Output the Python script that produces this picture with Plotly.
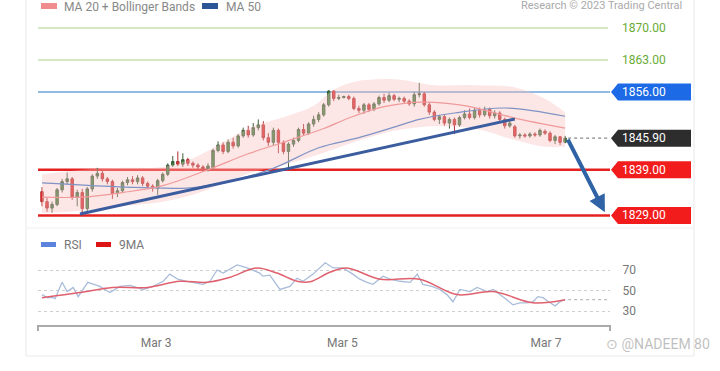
import plotly.graph_objects as go

W, H = 720, 371

# ---------------- data ----------------
opens = [1834.2, 1832.0, 1830.6, 1831.4, 1834.6, 1836.4, 1837.0, 1833.0, 1834.0, 1830.5,
         1834.8, 1837.6, 1838.2, 1837.0, 1836.4, 1833.8, 1834.4, 1836.2, 1836.8, 1836.4,
         1837.2, 1836.0, 1835.4, 1835.0, 1836.6, 1838.0, 1840.0, 1840.8, 1840.2, 1841.2,
         1840.4, 1840.0, 1839.6, 1839.2, 1839.4, 1843.2, 1844.4, 1843.0, 1845.0, 1844.2,
         1846.4, 1847.6, 1846.6, 1848.2, 1848.8, 1846.0, 1845.0, 1847.6, 1845.0, 1843.0,
         1844.6, 1845.4, 1847.8, 1847.0, 1849.0, 1850.0, 1851.0, 1853.2, 1856.2, 1854.6,
         1854.8, 1855.0, 1854.6, 1852.4, 1852.0, 1853.2, 1852.2, 1853.4, 1854.8, 1854.2,
         1855.2, 1854.4, 1854.6, 1854.0, 1853.4, 1855.4, 1855.6, 1853.2, 1851.6, 1850.0,
         1850.6, 1849.2, 1850.0, 1848.8, 1850.4, 1851.2, 1850.4, 1852.0, 1851.0, 1852.2,
         1850.8, 1851.4, 1850.0, 1848.6, 1848.4, 1846.4, 1846.6, 1846.4, 1846.8, 1846.6,
         1847.4, 1847.0, 1845.4, 1846.2, 1845.0]
closes = [1832.0, 1830.6, 1831.4, 1834.6, 1836.4, 1837.0, 1833.0, 1834.0, 1830.5, 1834.8,
          1837.6, 1838.2, 1837.0, 1836.4, 1833.8, 1834.4, 1836.2, 1836.8, 1836.4, 1837.2,
          1836.0, 1835.4, 1835.0, 1836.6, 1838.0, 1840.0, 1840.8, 1840.2, 1841.2, 1840.4,
          1840.0, 1839.6, 1839.2, 1839.8, 1843.2, 1844.4, 1843.0, 1845.0, 1844.2, 1846.4,
          1847.6, 1846.6, 1848.2, 1848.8, 1846.0, 1845.0, 1847.6, 1845.0, 1843.0, 1844.6,
          1845.4, 1847.8, 1847.0, 1849.0, 1850.0, 1851.0, 1853.2, 1856.2, 1854.6, 1854.8,
          1855.0, 1854.6, 1852.4, 1852.0, 1853.2, 1852.2, 1853.4, 1854.8, 1854.2, 1855.2,
          1854.4, 1854.6, 1854.0, 1853.4, 1855.4, 1855.6, 1853.2, 1851.6, 1850.0, 1850.6,
          1849.2, 1850.0, 1848.8, 1850.4, 1851.2, 1850.4, 1852.0, 1851.0, 1852.2, 1850.8,
          1851.4, 1850.0, 1848.6, 1849.2, 1846.4, 1846.6, 1846.4, 1846.8, 1846.6, 1847.6,
          1847.0, 1845.4, 1846.2, 1845.0, 1845.9]
highs = [1835.2, 1832.8, 1832.0, 1835.0, 1837.0, 1838.4, 1837.4, 1834.6, 1834.8, 1835.2,
         1838.0, 1839.4, 1838.8, 1837.4, 1836.8, 1835.0, 1836.6, 1837.4, 1837.6, 1837.8,
         1837.6, 1836.4, 1835.8, 1837.0, 1838.4, 1840.4, 1842.0, 1843.0, 1842.6, 1841.6,
         1840.8, 1840.4, 1840.0, 1840.4, 1843.6, 1845.2, 1845.0, 1845.6, 1846.0, 1846.8,
         1848.2, 1848.6, 1849.2, 1850.0, 1849.6, 1847.0, 1848.2, 1848.0, 1845.4, 1845.0,
         1846.0, 1848.2, 1849.0, 1849.4, 1850.8, 1851.6, 1853.6, 1856.4, 1856.4, 1855.4,
         1855.2, 1855.4, 1855.0, 1853.0, 1853.6, 1853.6, 1853.8, 1855.2, 1855.6, 1855.8,
         1855.6, 1855.0, 1855.0, 1854.4, 1856.0, 1858.0, 1856.0, 1853.6, 1852.0, 1851.0,
         1851.0, 1850.4, 1850.4, 1850.8, 1852.0, 1852.4, 1852.6, 1852.6, 1852.8, 1852.6,
         1852.0, 1851.8, 1850.4, 1849.6, 1848.8, 1847.0, 1847.0, 1847.2, 1847.2, 1848.0,
         1847.8, 1847.4, 1846.6, 1846.4, 1846.4]
lows = [1831.0, 1829.8, 1829.6, 1831.0, 1834.0, 1835.8, 1832.4, 1831.0, 1829.4, 1830.0,
        1834.2, 1837.0, 1836.4, 1835.8, 1832.6, 1833.0, 1834.0, 1835.6, 1835.8, 1835.8,
        1835.4, 1834.8, 1834.2, 1833.5, 1836.2, 1837.6, 1839.6, 1839.8, 1839.6, 1839.8,
        1839.4, 1839.0, 1838.6, 1838.6, 1839.0, 1842.8, 1842.4, 1842.6, 1843.6, 1843.8,
        1846.0, 1846.0, 1846.2, 1847.6, 1845.4, 1844.2, 1844.4, 1842.6, 1842.4, 1839.0,
        1844.0, 1845.0, 1846.4, 1846.6, 1848.4, 1849.4, 1850.6, 1852.8, 1854.0, 1854.2,
        1854.6, 1854.2, 1852.0, 1851.4, 1851.2, 1851.6, 1851.8, 1853.0, 1853.6, 1853.8,
        1854.0, 1853.8, 1853.4, 1853.0, 1852.8, 1854.8, 1852.8, 1851.0, 1849.6, 1849.0,
        1848.6, 1848.0, 1846.8, 1848.4, 1850.0, 1850.0, 1850.0, 1850.4, 1850.6, 1850.2,
        1850.2, 1849.6, 1848.0, 1848.2, 1846.0, 1845.8, 1846.0, 1846.0, 1846.2, 1846.2,
        1846.6, 1845.0, 1844.6, 1844.4, 1844.8]
candle_idx = list(range(len(closes)))

band_idx = [0, 8, 16, 24, 30, 36, 42, 48, 54, 58, 62, 70, 78, 86, 94, 100, 104]
band_upper = [1838.0, 1839.0, 1839.4, 1839.6, 1841.5, 1845.0, 1848.5, 1850.5, 1853.0,
              1856.5, 1858.2, 1858.8, 1857.5, 1857.5, 1857.0, 1854.5, 1851.5]
band_lower = [1829.5, 1830.0, 1831.0, 1832.0, 1833.5, 1836.0, 1838.5, 1840.0, 1842.0,
              1843.5, 1845.0, 1847.5, 1848.5, 1848.0, 1845.5, 1844.0, 1844.0]

ma20_idx = [0, 8, 16, 24, 33, 41, 48, 56, 61, 68, 76, 84, 94, 104]
ma20_val = [1833.0, 1833.0, 1834.0, 1835.5, 1839.0, 1842.5, 1845.0, 1848.0, 1850.3,
            1852.8, 1853.8, 1853.0, 1850.3, 1848.1]

ma50_idx = [0, 22, 31, 45, 55, 63, 70, 75, 82, 92, 104]
ma50_val = [1836.1, 1835.0, 1835.2, 1838.9, 1843.8, 1846.0, 1848.3, 1850.0, 1851.4, 1852.5, 1850.7]

trend_idx = [7.55, 94.0]
trend_val = [1829.3, 1850.1]

arrow_from = (104.4, 1845.9)
arrow_to = (111.9, 1829.7)

rsi_idx = [0, 1, 2.2, 2.6, 4, 5, 6.2, 7.2, 9.1, 11.5, 13.5, 15.5, 17.5, 20.1, 22.1, 24.1,
           25.4, 27, 28.8, 32, 33.4, 34.8, 36, 38.8, 40.8, 43.3, 43.9, 45.3, 47.3, 49.3,
           50.7, 51.9, 53.9, 56.3, 57.9, 59.8, 61.8, 63.2, 64.6, 65.8, 67.8, 69.2, 71.2,
           73.2, 74.6, 75.7, 77.5, 79.1, 80.5, 81.7, 83.1, 85.1, 86.5, 88.5, 89.7, 91.1,
           92.4, 93.6, 95, 96.4, 97.6, 98.6, 99.6, 101, 102, 103, 104]
rsi_val = [46, 43, 43, 42, 58, 49, 53, 44, 58, 54, 48, 54, 55, 51, 54, 59,
           66, 61, 59, 56, 59, 70, 67, 75, 72, 67, 64, 65, 51, 54,
           62, 59, 66, 77, 72, 72, 66, 61, 58, 56, 64, 61, 59,
           58, 66, 56, 54, 51, 46, 39, 51, 49, 53, 49, 51, 46,
           41, 36, 38, 38, 39, 44, 43, 38, 35, 39, 41]

ma9_idx = [0, 7.5, 14, 21, 27.4, 32.8, 37.4, 42.7, 46.7, 50.7, 53.3, 57.3, 60.6,
           67.2, 75.1, 82.5, 89.7, 97.6, 104]
ma9_val = [43, 48, 53, 53, 59, 58, 63, 72, 67, 59, 58.5, 68, 72,
           61, 61, 46, 49, 38, 41]

green_levels = [1870.00, 1863.00]
resist_level = 1856.00
last_price = 1845.90
support_levels = [1839.00, 1829.00]
rsi_ticks = [30, 50, 70]
last_rsi = 41

date_pos = [22.7, 59.7, 100.2]
date_text = ["Mar 3", "Mar 5", "Mar 7"]

# ---------------- layout geometry ----------------
def fy(px):
    return 1 - px / H

def fx(px):
    return px / W

XL, XR = 38, 610
x_range = [(XL - 42) / 5.03, (XR - 42) / 5.03]
P_TOP, P_BOT = 12, 228
price_range = [1856 - (P_BOT - 92) / 4.5705, 1856 + (92 - P_TOP) / 4.5705]
R_TOP, R_BOT = 258, 325
rsi_range = [30 - (R_BOT - 311) / 1.025, 70 + (270 - R_TOP) / 1.025]

FONT = "Roboto, Arial, sans-serif"

fig = go.Figure()

# Bollinger band fill
fig.add_trace(go.Scatter(x=band_idx, y=band_lower, mode="lines", line=dict(width=0, shape="spline"),
                         hoverinfo="skip", showlegend=False, xaxis="x", yaxis="y"))
fig.add_trace(go.Scatter(x=band_idx, y=band_upper, mode="lines", line=dict(width=0, shape="spline"),
                         fill="tonexty", fillcolor="rgba(248,190,190,0.38)",
                         hoverinfo="skip", showlegend=False, xaxis="x", yaxis="y"))
# MA50
fig.add_trace(go.Scatter(x=ma50_idx, y=ma50_val, mode="lines",
                         line=dict(color="#7f93c4", width=1.2, shape="spline"),
                         showlegend=False, xaxis="x", yaxis="y"))
# MA20
fig.add_trace(go.Scatter(x=ma20_idx, y=ma20_val, mode="lines",
                         line=dict(color="#f09a9a", width=1.2, shape="spline"),
                         showlegend=False, xaxis="x", yaxis="y"))
# Trend line
fig.add_trace(go.Scatter(x=trend_idx, y=trend_val, mode="lines",
                         line=dict(color="#3b5c9e", width=3),
                         showlegend=False, xaxis="x", yaxis="y"))
# Candles
fig.add_trace(go.Candlestick(x=candle_idx, open=opens, high=highs, low=lows, close=closes,
                             increasing=dict(line=dict(color="#3d5f3d", width=1), fillcolor="#3a8a3a"),
                             decreasing=dict(line=dict(color="#b03030", width=1), fillcolor="#e52b2b"),
                             whiskerwidth=0, showlegend=False, xaxis="x", yaxis="y"))

# RSI + 9MA
fig.add_trace(go.Scatter(x=rsi_idx, y=rsi_val, mode="lines",
                         line=dict(color="#a9bcd9", width=1.3),
                         showlegend=False, xaxis="x2", yaxis="y2"))
fig.add_trace(go.Scatter(x=ma9_idx, y=ma9_val, mode="lines",
                         line=dict(color="#e0606e", width=1.5, shape="spline"),
                         showlegend=False, xaxis="x2", yaxis="y2"))

shapes = []
annotations = []

# panel border
shapes.append(dict(type="rect", xref="paper", yref="paper", x0=fx(26), x1=fx(694), y0=fy(356), y1=fy(-2),
                   line=dict(color="#e8e8e8", width=1), layer="below"))
shapes.append(dict(type="line", xref="paper", yref="paper", x0=fx(26), x1=fx(694), y0=fy(228), y1=fy(228),
                   line=dict(color="#f0f0f0", width=1), layer="below"))

# level lines
for lv in green_levels:
    shapes.append(dict(type="line", xref="x domain", yref="y", x0=0, x1=(608 - XL) / (XR - XL), y0=lv, y1=lv,
                       line=dict(color="#c8e0ae", width=1.5), layer="below"))
    annotations.append(dict(xref="paper", yref="y", x=fx(620), y=lv, text=f"{lv:.2f}", showarrow=False,
                            xanchor="left", yanchor="middle", font=dict(family=FONT, size=12, color="#6aab35")))
shapes.append(dict(type="line", xref="x domain", yref="y", x0=0, x1=1, y0=resist_level, y1=resist_level,
                   line=dict(color="#6ea3da", width=1.5), layer="below"))
for lv in support_levels:
    shapes.append(dict(type="line", xref="x domain", yref="y", x0=0, x1=1, y0=lv, y1=lv,
                       line=dict(color="#e52222", width=2.5), layer="below"))
# last price dotted
shapes.append(dict(type="line", xref="x", yref="y", x0=candle_idx[-1] + 0.6, x1=x_range[1] - 0.4,
                   y0=last_price, y1=last_price, line=dict(color="#888", width=1.2, dash="dot")))


def tag(level, color):
    h = 8.5 / 4.5705
    x_tip, x_l, x_r = fx(611), fx(618), fx(691)
    path = (f"M {x_tip},{level} L {x_l},{level + h} L {x_r},{level + h} "
            f"L {x_r},{level - h} L {x_l},{level - h} Z")
    shapes.append(dict(type="path", xref="paper", yref="y", path=path, fillcolor=color,
                       line=dict(color=color, width=0), layer="above"))
    annotations.append(dict(xref="paper", yref="y", x=fx(620), y=level, text=f"{level:.2f}", showarrow=False,
                            xanchor="left", yanchor="middle", font=dict(family=FONT, size=12, color="white")))


tag(resist_level, "#1c6ae6")
tag(last_price, "#2d2d2d")
for lv in support_levels:
    tag(lv, "#f21c1c")

# arrow
annotations.append(dict(xref="x", yref="y", axref="x", ayref="y", x=arrow_to[0], y=arrow_to[1],
                        ax=arrow_from[0], ay=arrow_from[1], text="", showarrow=True,
                        arrowhead=2, arrowsize=0.85, arrowwidth=4, arrowcolor="#2f63a6"))

# RSI current value dotted
shapes.append(dict(type="line", xref="x2", yref="y2", x0=candle_idx[-1] + 0.6, x1=x_range[1] - 0.4,
                   y0=last_rsi, y1=last_rsi, line=dict(color="#bbb", width=1.2, dash="dot")))

# x-axis bracket ends
for px in (XL, XR):
    shapes.append(dict(type="line", xref="paper", yref="paper", x0=fx(px), x1=fx(px), y0=fy(325), y1=fy(331),
                       line=dict(color="#aaa", width=2)))

# legends
shapes.append(dict(type="rect", xref="paper", yref="paper", x0=fx(41), x1=fx(57), y0=fy(9), y1=fy(3),
                   fillcolor="#f08c8c", line=dict(width=0)))
annotations.append(dict(xref="paper", yref="paper", x=fx(62), y=fy(6.5), text="MA 20 + Bollinger Bands",
                        showarrow=False, xanchor="left", yanchor="middle",
                        font=dict(family=FONT, size=12, color="#888")))
shapes.append(dict(type="rect", xref="paper", yref="paper", x0=fx(202), x1=fx(218), y0=fy(9), y1=fy(3),
                   fillcolor="#2c5595", line=dict(width=0)))
annotations.append(dict(xref="paper", yref="paper", x=fx(224), y=fy(6.5), text="MA 50",
                        showarrow=False, xanchor="left", yanchor="middle",
                        font=dict(family=FONT, size=12, color="#888")))
annotations.append(dict(xref="paper", yref="paper", x=fx(684), y=fy(6), text="Research © 2023 Trading Central",
                        showarrow=False, xanchor="right", yanchor="middle",
                        font=dict(family=FONT, size=11, color="#aaa")))

shapes.append(dict(type="rect", xref="paper", yref="paper", x0=fx(41), x1=fx(56), y0=fy(247), y1=fy(242),
                   fillcolor="#5c84dc", line=dict(width=0)))
annotations.append(dict(xref="paper", yref="paper", x=fx(62), y=fy(244.5), text="RSI",
                        showarrow=False, xanchor="left", yanchor="middle",
                        font=dict(family=FONT, size=12, color="#777")))
shapes.append(dict(type="rect", xref="paper", yref="paper", x0=fx(96), x1=fx(111), y0=fy(247), y1=fy(242),
                   fillcolor="#dd1515", line=dict(width=0)))
annotations.append(dict(xref="paper", yref="paper", x=fx(117), y=fy(244.5), text="9MA",
                        showarrow=False, xanchor="left", yanchor="middle",
                        font=dict(family=FONT, size=12, color="#777")))

# watermark
annotations.append(dict(xref="paper", yref="paper", x=fx(712), y=fy(344), text="⊙ @NADEEM 80",
                        showarrow=False, xanchor="right", yanchor="middle",
                        font=dict(family=FONT, size=14, color="rgba(170,170,170,0.75)")))

fig.update_layout(
    width=W, height=H,
    margin=dict(l=0, r=0, t=0, b=0),
    paper_bgcolor="white", plot_bgcolor="rgba(0,0,0,0)",
    showlegend=False,
    xaxis=dict(domain=[fx(XL), fx(XR)], range=x_range, visible=False, rangeslider=dict(visible=False),
               anchor="y"),
    yaxis=dict(domain=[fy(P_BOT), fy(P_TOP)], range=price_range, visible=False, anchor="x"),
    xaxis2=dict(domain=[fx(XL), fx(XR)], range=x_range, anchor="y2", showgrid=False, zeroline=False,
                showline=True, linecolor="#aaa", linewidth=2, tickvals=date_pos, ticktext=date_text,
                ticks="outside", ticklen=6, tickcolor="rgba(0,0,0,0)",
                tickfont=dict(family=FONT, size=12, color="#777")),
    yaxis2=dict(domain=[fy(R_BOT), fy(R_TOP)], range=rsi_range, anchor="x2", side="right",
                tickvals=rsi_ticks, showgrid=True, gridcolor="#cfcfcf", griddash="dot", gridwidth=1,
                zeroline=False, showline=False, ticks="outside", ticklen=9, tickcolor="rgba(0,0,0,0)",
                tickfont=dict(family=FONT, size=12, color="#777")),
    shapes=shapes,
    annotations=annotations,
    hovermode=False,
)

fig.write_html("out.html", config={"displayModeBar": False, "staticPlot": True},
               post_script="document.body.style.margin='0';document.body.style.overflow='hidden';")
